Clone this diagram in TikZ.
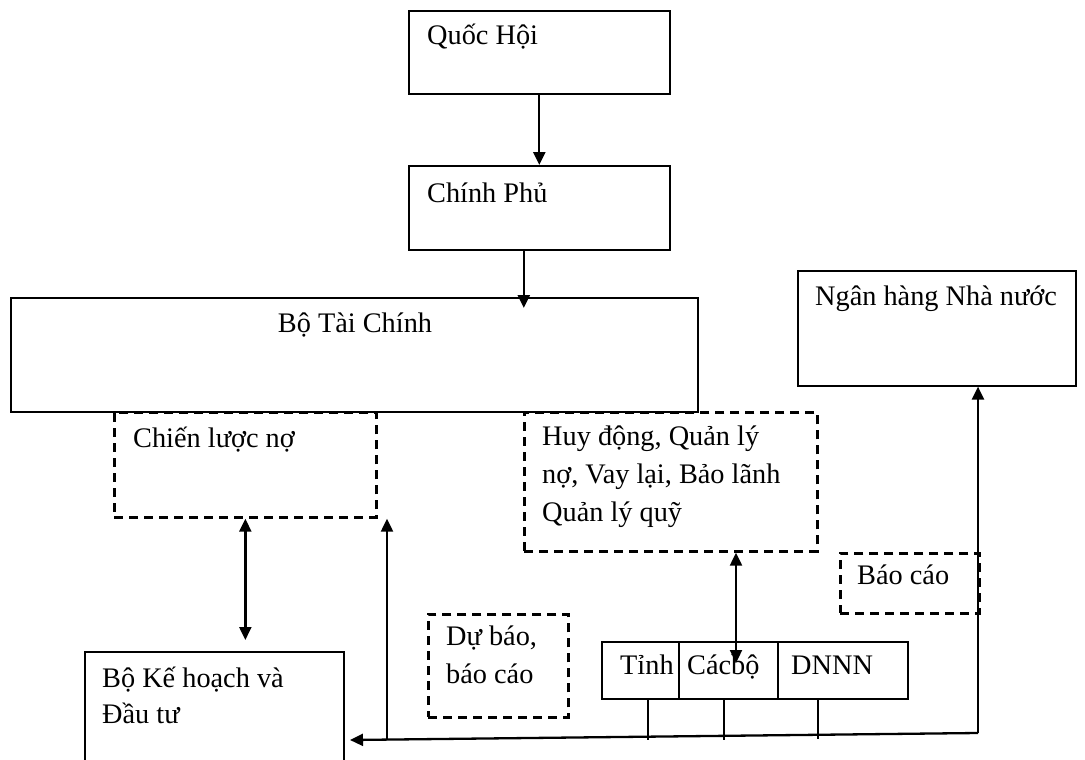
\documentclass[tikz,border=0pt]{standalone}
\usepackage{fontspec}
\setmainfont{Liberation Serif}
\usetikzlibrary{arrows.meta}
\tikzset{
  box/.style={draw, line width=1.6pt, inner sep=0pt, anchor=north west},
  dbox/.style={box, line width=2.7pt, dash pattern=on 9pt off 6pt},
  txt/.style={anchor=base west, inner sep=0pt, font=\fontsize{28.3}{38}\selectfont},
  arr/.style={line width=2.3pt, -{Triangle[length=13pt,width=12pt]}},
  darr/.style={line width=2.3pt, {Triangle[length=13pt,width=12pt]}-{Triangle[length=13pt,width=12pt]}},
  plain/.style={line width=1.8pt}
}
\begin{document}
\begin{tikzpicture}[x=1pt,y=-1pt]
\useasboundingbox (0,0) rectangle (1085,760);
\fill[white] (0,0) rectangle (1085,760);
\clip (0,0) rectangle (1085,760);

% boxes
\node[box, minimum width=261pt, minimum height=83pt] (qh) at (408,10) {};
\node[box, minimum width=261pt, minimum height=84pt] (cp) at (408,165) {};
\node[box, minimum width=687pt, minimum height=114pt] (btc) at (10,297) {};
\node[box, minimum width=278pt, minimum height=115pt] (nh) at (797,270) {};
\node[dbox, minimum width=262pt, minimum height=105pt] (cln) at (113,411) {};
\node[dbox, minimum width=293pt, minimum height=139pt] (hd) at (523,411) {};
\node[dbox, minimum width=140pt, minimum height=103pt] (db) at (427,613) {};
\node[dbox, minimum width=139pt, minimum height=60pt] (bc) at (839,552) {};
\node[box, minimum width=259pt, minimum height=140pt] (kh) at (84,651) {};
\node[box, minimum width=77pt, minimum height=57pt] (tinh) at (601,641) {};
\node[box, minimum width=99pt, minimum height=57pt] (cb) at (678,641) {};
\node[box, minimum width=130pt, minimum height=57pt] (dn) at (777,641) {};

% texts
\node[txt] (qht) at (427,45) {Quốc Hội};
\node[txt] (cpt) at (427,202) {Chính Phủ};
\node[txt, anchor=base] (btct) at (355,332) {Bộ Tài Chính};
\node[txt] (nht) at (815,305) {Ngân hàng Nhà nước};
\node[txt] (clnt) at (133,447) {Chiến lược nợ};
\node[txt] (hdt) at (542,445) {\vtop{\hbox{Huy động, Quản lý}\hbox{nợ, Vay lại, Bảo lãnh}\hbox{Quản lý quỹ}}};
\node[txt] (dbt) at (446,645) {\vtop{\hbox{Dự báo,}\hbox{báo cáo}}};
\node[txt] (bct) at (857,584) {Báo cáo};
\node[txt] (kht) at (102,687) {\vtop{\baselineskip=36pt\hbox{Bộ Kế hoạch và}\hbox{Đầu tư}}};
\node[txt] (tinht) at (620,674) {Tỉnh};
\node[txt] (cbt) at (687,674) {Cácbộ};
\node[txt] (dnt) at (791,674) {DNNN};

% connectors
\draw[arr] (qh.south) -- (cp.north);
\draw[arr] ([xshift=-15.5pt]cp.south) -- ([xshift=169.5pt,yshift=-11pt]btc.north);
\draw[darr, shorten >=11pt] (cln.south) -- (cln.south |- kh.north);
\coordinate (cbtip) at (736,663);
\draw[darr] (hd.south -| cbtip) -- (cbtip);

\coordinate (br) at (978,733);
\coordinate (bl) at (350,740);
\coordinate (up) at (387,739.5);
\draw[arr] (br) -- (bl);
\draw[arr] (br) -- (br |- nh.south);
\draw[arr] (up) -- (up |- cln.south);

\draw[plain] ([xshift=7.5pt]tinh.south) -- ++(0,40);
\draw[plain] ([xshift=-4.5pt]cb.south) -- ++(0,40);
\draw[plain] ([xshift=-25pt]dn.south) -- ++(0,39);
\end{tikzpicture}
\end{document}
